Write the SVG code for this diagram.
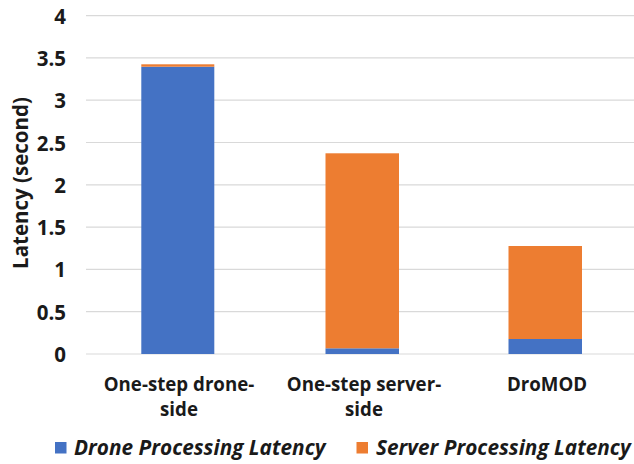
<svg xmlns="http://www.w3.org/2000/svg" width="634" height="464" viewBox="0 0 634 464">
<style>
.grid{stroke:#D9D9D9;stroke-width:1.2}
.tick{font-family:"Open Sans","Liberation Sans",sans-serif;font-weight:bold;font-size:20.5px;fill:#1a1a1a;text-anchor:end;dominant-baseline:central}
.cat{font-family:"Open Sans","Liberation Sans",sans-serif;font-weight:bold;font-size:18.7px;fill:#1a1a1a;text-anchor:middle}
.ytitle{font-family:"Open Sans","Liberation Sans",sans-serif;font-weight:bold;font-size:20.5px;fill:#1a1a1a;text-anchor:middle;dominant-baseline:central}
.leg{font-family:"Open Sans","Liberation Sans",sans-serif;font-weight:bold;font-style:italic;font-size:20.8px;fill:#1a1a1a}
.blue{fill:#4472C4}
.orange{fill:#ED7D31}
</style>
<rect width="634" height="464" fill="#ffffff"/>
<g id="gridlines">
<line class="grid" x1="86" y1="15.6" x2="634" y2="15.6"/>
<line class="grid" x1="86" y1="57.9" x2="634" y2="57.9"/>
<line class="grid" x1="86" y1="100.2" x2="634" y2="100.2"/>
<line class="grid" x1="86" y1="142.5" x2="634" y2="142.5"/>
<line class="grid" x1="86" y1="184.8" x2="634" y2="184.8"/>
<line class="grid" x1="86" y1="227.1" x2="634" y2="227.1"/>
<line class="grid" x1="86" y1="269.4" x2="634" y2="269.4"/>
<line class="grid" x1="86" y1="311.7" x2="634" y2="311.7"/>
<line class="grid" x1="86" y1="354" x2="634" y2="354"/>
</g>
<g id="y-ticks">
<text class="tick" x="66" y="15.6">4</text>
<text class="tick" x="66" y="57.9">3.5</text>
<text class="tick" x="66" y="100.2">3</text>
<text class="tick" x="66" y="142.5">2.5</text>
<text class="tick" x="66" y="184.8">2</text>
<text class="tick" x="66" y="227.1">1.5</text>
<text class="tick" x="66" y="269.4">1</text>
<text class="tick" x="66" y="311.7">0.5</text>
<text class="tick" x="66" y="354">0</text>
</g>
<text id="y-title" class="ytitle" transform="translate(20,183) rotate(-90)">Latency (second)</text>
<g id="bar-drone-side">
<rect class="blue" x="141.3" y="66.7" width="73" height="287.3"/>
<rect class="orange" x="141.3" y="64.3" width="73" height="2.4"/>
</g>
<g id="bar-server-side">
<rect class="blue" x="325.5" y="348.3" width="73.5" height="5.7"/>
<rect class="orange" x="325.5" y="153.3" width="73.5" height="195"/>
</g>
<g id="bar-dromod">
<rect class="blue" x="508.5" y="339" width="73.5" height="15"/>
<rect class="orange" x="508.5" y="246" width="73.5" height="93"/>
</g>
<g id="x-labels">
<text class="cat" x="179" y="390.5">One-step drone-</text>
<text class="cat" x="179" y="416">side</text>
<text class="cat" x="364" y="390.5">One-step server-</text>
<text class="cat" x="364" y="416">side</text>
<text class="cat" x="547" y="390.5">DroMOD</text>
</g>
<g id="legend">
<rect class="blue" x="55" y="442" width="11.5" height="11.5"/>
<text class="leg" x="74" y="455">Drone Processing Latency</text>
<rect class="orange" x="356.5" y="442" width="11.5" height="11.5"/>
<text class="leg" x="376" y="455">Server Processing Latency</text>
</g>
</svg>
